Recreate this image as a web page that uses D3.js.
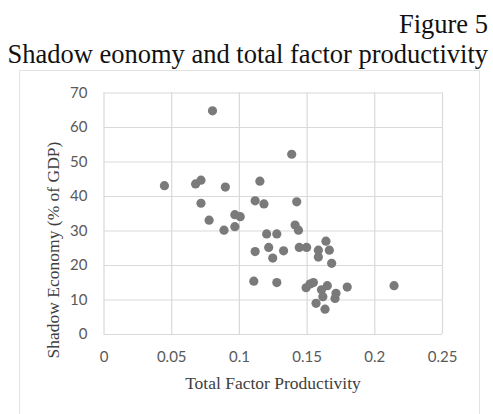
<!DOCTYPE html>
<html>
<head>
<meta charset="utf-8">
<script src="https://cdn.jsdelivr.net/npm/d3@7"></script>
<style>
  html, body { margin: 0; padding: 0; background: #fff; }
  svg { display: block; }
</style>
</head>
<body>
<svg id="chart" width="493" height="414"></svg>
<script>
// Total factor productivity (x) and shadow economy, % of GDP (y), one pair per country
const tfp = [
  0.045, 0.068, 0.072, 0.0805, 0.072, 0.078, 0.089, 0.090, 0.097, 0.097,
  0.101, 0.111, 0.112, 0.112, 0.1155, 0.1185, 0.1205, 0.122, 0.125, 0.128,
  0.128, 0.133, 0.139, 0.1415, 0.1427, 0.144, 0.1446, 0.150, 0.1496, 0.1525,
  0.155, 0.157, 0.1587, 0.1587, 0.161, 0.162, 0.1636, 0.1643, 0.1653, 0.1668,
  0.1685, 0.171, 0.1717, 0.180, 0.2146
];
const shadow = [
  43.0, 43.5, 44.6, 64.7, 37.9, 33.0, 30.1, 42.6, 31.1, 34.6,
  34.0, 15.3, 23.9, 38.6, 44.3, 37.7, 29.0, 25.1, 22.0, 29.0,
  14.9, 24.1, 52.1, 31.6, 38.3, 30.1, 25.1, 25.1, 13.4, 14.5,
  14.9, 8.9, 24.3, 22.3, 12.8, 10.8, 7.2, 26.9, 14.0, 24.3,
  20.5, 10.3, 11.8, 13.6, 14.0
];
const xTicks = [0, 0.05, 0.1, 0.15, 0.2, 0.25];
const yTicks = [0, 10, 20, 30, 40, 50, 60, 70];

const figureLabel = "Figure 5";
const chartTitle = "Shadow eonomy and total factor productivity";
const xTitle = "Total Factor Productivity";
const yTitle = "Shadow Economy (% of GDP)";

const svg = d3.select("#chart");
const W = 493, H = 414;
const serif = "'Liberation Serif', 'Times New Roman', serif";
const sans = "Lato, 'Open Sans', sans-serif";
const gridColor = "#d9d9d9";
const labelColor = "#595959";

svg.append("rect").attr("width", W).attr("height", H).attr("fill", "#fff");

// Heading lines
svg.append("text")
  .attr("x", 488).attr("y", 33)
  .attr("text-anchor", "end")
  .attr("font-family", serif).attr("font-size", 26.5)
  .attr("fill", "#111")
  .text(figureLabel);
svg.append("text")
  .attr("x", 488).attr("y", 63)
  .attr("text-anchor", "end")
  .attr("font-family", serif).attr("font-size", 26.5)
  .attr("fill", "#111")
  .text(chartTitle);

// Chart frame (runs off the bottom edge)
svg.append("rect")
  .attr("x", 19.5).attr("y", 70.5)
  .attr("width", 460).attr("height", 360)
  .attr("fill", "#fff")
  .attr("stroke", "#e3e3e3");

const plotLeft = 103.5, plotRight = 442, plotTop = 92.5, plotBottom = 334;
const x = d3.scaleLinear().domain([0, 0.25]).range([plotLeft, plotRight]);
const y = d3.scaleLinear().domain([0, 70]).range([plotBottom, plotTop]);

// Gridlines and tick labels via axes
const xAxis = d3.axisBottom(x)
  .tickValues(xTicks)
  .tickSize(-(plotBottom - plotTop))
  .tickPadding(17)
  .tickFormat(d => String(+d.toFixed(2)));
const yAxis = d3.axisLeft(y)
  .tickValues(yTicks)
  .tickSize(-(plotRight - plotLeft))
  .tickPadding(12)
  .tickFormat(d => String(d));

const gx = svg.append("g").attr("transform", `translate(0,${plotBottom})`).call(xAxis);
const gy = svg.append("g").attr("transform", `translate(${plotLeft},0)`).call(yAxis);

[gx, gy].forEach(g => {
  g.select(".domain").remove();
  g.selectAll(".tick line").attr("stroke", gridColor).attr("stroke-width", 1.2);
  g.selectAll(".tick text")
    .attr("fill", labelColor)
    .attr("font-family", sans)
    .attr("font-size", 15);
});
gy.selectAll(".tick text").attr("x", -16);

// Axis titles
svg.append("text")
  .attr("x", 273).attr("y", 389)
  .attr("text-anchor", "middle")
  .attr("font-family", serif).attr("font-size", 17.5)
  .attr("fill", "#404040")
  .text(xTitle);
svg.append("text")
  .attr("transform", "translate(59,250) rotate(-90)")
  .attr("text-anchor", "middle")
  .attr("font-family", serif).attr("font-size", 17.5)
  .attr("fill", "#404040")
  .text(yTitle);

// Scatter points
const data = tfp.map((v, i) => ({ tfp: v, shadow: shadow[i] }));
svg.append("g")
  .selectAll("circle")
  .data(data)
  .join("circle")
  .attr("cx", d => x(d.tfp))
  .attr("cy", d => y(d.shadow))
  .attr("r", 4.6)
  .attr("fill", "#7a7a7a");
</script>
</body>
</html>
